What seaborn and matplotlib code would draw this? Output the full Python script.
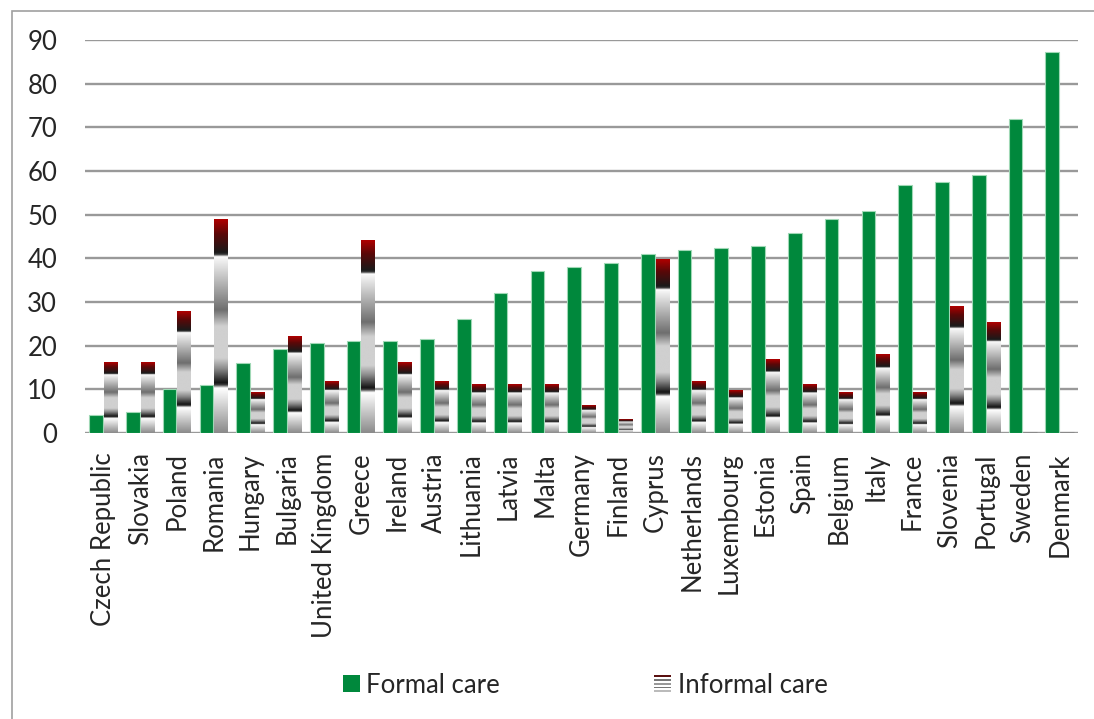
import numpy as np
import pandas as pd
import seaborn as sns
import matplotlib
matplotlib.use("Agg")
import matplotlib.pyplot as plt
from matplotlib.colors import LinearSegmentedColormap
from matplotlib.patches import Rectangle, Patch
from matplotlib.legend_handler import HandlerBase

countries = ["Czech Republic", "Slovakia", "Poland", "Romania", "Hungary", "Bulgaria",
             "United Kingdom", "Greece", "Ireland", "Austria", "Lithuania", "Latvia",
             "Malta", "Germany", "Finland", "Cyprus", "Netherlands", "Luxembourg",
             "Estonia", "Spain", "Belgium", "Italy", "France", "Slovenia", "Portugal",
             "Sweden", "Denmark"]
formal_care = [4.1, 4.9, 10.1, 10.9, 16.0, 19.2, 20.5, 21.1, 21.1, 21.5, 26.1, 32.1,
               37.1, 37.9, 38.9, 41.1, 42.0, 42.4, 42.9, 45.7, 48.9, 50.8, 56.7, 57.5,
               59.1, 71.8, 87.3]
informal_care = [16.1, 16.1, 27.9, 49.0, 9.2, 22.0, 11.9, 44.0, 16.1, 11.9, 11.0, 11.0,
                 11.0, 6.2, 3.2, 39.8, 11.9, 9.8, 16.9, 11.0, 9.2, 17.9, 9.2, 28.9,
                 25.2, 0.0, 0.0]
series_names = ["Formal care", "Informal care"]
y_ticks = [0, 10, 20, 30, 40, 50, 60, 70, 80, 90]

GREEN = "#00883c"
FONT = ["Lato", "DejaVu Sans"]
FS = 18.5

sns.set_style("white")
plt.rcParams["font.family"] = FONT

df = pd.DataFrame({
    "country": countries * 2,
    "care": [series_names[0]] * len(countries) + [series_names[1]] * len(countries),
    "value": formal_care + informal_care,
})

fig = plt.figure(figsize=(10.94, 7.19), dpi=100)
ax = fig.add_axes([0.0777, 0.3978, 0.9077, 0.5466])

sns.barplot(data=df, x="country", y="value", hue="care", hue_order=series_names,
            palette={series_names[0]: GREEN, series_names[1]: "#bbbbbb"},
            saturation=1, width=0.8, gap=0.07, legend=False, ax=ax, zorder=3,
            edgecolor="#9fd8b5", linewidth=0.8)

# vertical shaded fill for the informal-care bars (position 0 = bottom, 1 = top)
stops = [
    (0.00, "#8a8a8a"),
    (0.21, "#ffffff"),
    (0.225, "#3a3a3a"),
    (0.235, "#151515"),
    (0.30, "#8a8a8a"),
    (0.35, "#d0d0d0"),
    (0.50, "#d0d0d0"),
    (0.575, "#6e6e6e"),
    (0.815, "#f4f4f4"),
    (0.825, "#ffffff"),
    (0.835, "#3a3a3a"),
    (0.845, "#1a1a1a"),
    (0.93, "#5a0808"),
    (1.00, "#b00000"),
]
shade = LinearSegmentedColormap.from_list("informal_shade", stops, N=512)
grad = np.linspace(0, 1, 512).reshape(-1, 1)

for bar in ax.containers[1]:
    x0, w, h = bar.get_x(), bar.get_width(), bar.get_height()
    bar.set_facecolor("none")
    bar.set_edgecolor("none")
    if h > 0:
        ax.imshow(grad, cmap=shade, origin="lower", aspect="auto",
                  extent=[x0, x0 + w, 0, h], zorder=3, interpolation="bilinear")
    else:
        ax.plot([x0, x0 + w], [0, 0], color="#8a8a8a", lw=2.2, zorder=3,
                solid_capstyle="butt")

ax.set_xlim(-0.5, len(countries) - 0.5)
ax.set_ylim(0, 90)
ax.set_yticks(y_ticks)
ax.yaxis.grid(True, color="#999999", lw=1.7, zorder=0)
ax.xaxis.grid(False)
for s in ax.spines.values():
    s.set_visible(False)
ax.set_xlabel("")
ax.set_ylabel("")
ax.tick_params(axis="y", length=0, pad=20, labelsize=FS)
ax.tick_params(axis="x", length=0, pad=14, labelsize=FS, labelrotation=90)
for lab in ax.get_xticklabels():
    lab.set_horizontalalignment("center")


class StripedHandler(HandlerBase):
    def create_artists(self, legend, orig_handle, xdescent, ydescent,
                       width, height, fontsize, trans):
        colors = ["#5a1010", "#ffffff", "#777777", "#ffffff", "#999999",
                  "#ffffff", "#777777", "#ffffff", "#bbbbbb"]
        n = len(colors)
        arts = []
        for i, c in enumerate(colors):
            y = -ydescent + height * (n - 1 - i) / n
            arts.append(Rectangle((-xdescent, y), width, height / n,
                                  facecolor=c, edgecolor="none", transform=trans))
        return arts


handles = [Patch(facecolor=GREEN, edgecolor="none"), Patch(facecolor="#999999")]
fig.legend(handles, series_names, loc="center", bbox_to_anchor=(0.535, 0.047),
           ncol=2, frameon=False, fontsize=FS, handlelength=0.66, handleheight=0.66,
           handletextpad=0.25, columnspacing=6.0,
           handler_map={handles[1]: StripedHandler()})

# chart outer frame
fig.patches.append(Rectangle((0.0107, -0.2), 1.2, 1.185, transform=fig.transFigure,
                             fill=False, edgecolor="#a0a0a0", lw=1.2))

fig.savefig("out.png", dpi=100)
